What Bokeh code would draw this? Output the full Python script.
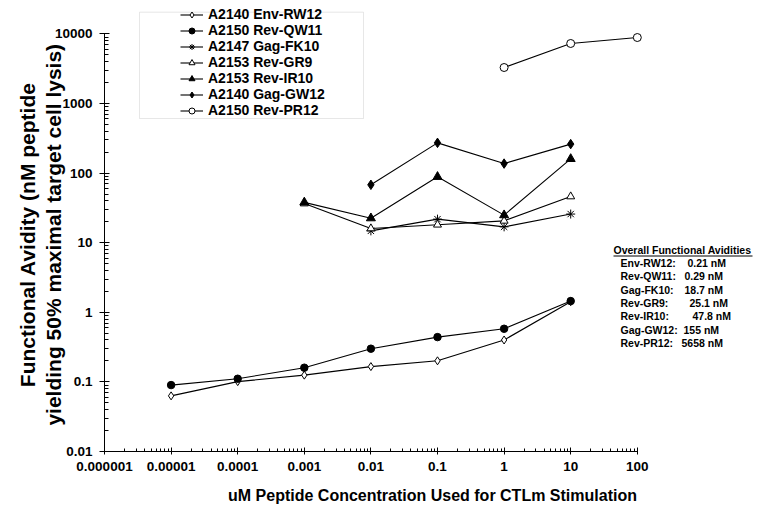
import math
from bokeh.plotting import figure
from bokeh.models import FixedTicker, CustomJSTickFormatter, Label, BoxAnnotation
from bokeh.embed import file_html
from bokeh.resources import INLINE

# ---------------- data ----------------
x_ticks = [1e-6, 1e-5, 1e-4, 1e-3, 1e-2, 1e-1, 1, 10, 100]
x_tick_labels = ["0.000001", "0.00001", "0.0001", "0.001", "0.01", "0.1", "1", "10", "100"]
y_ticks = [0.01, 0.1, 1, 10, 100, 1000, 10000]
y_tick_labels = ["0.01", "0.1", "1", "10", "100", "1000", "10000"]

series_names = ["A2140 Env-RW12", "A2150 Rev-QW11", "A2147 Gag-FK10", "A2153 Rev-GR9",
                "A2153 Rev-IR10", "A2140 Gag-GW12", "A2150 Rev-PR12"]

env_rw12_x = [1e-5, 1e-4, 1e-3, 1e-2, 1e-1, 1, 10]
env_rw12_y = [0.063, 0.101, 0.125, 0.166, 0.201, 0.40, 1.42]

rev_qw11_x = [1e-5, 1e-4, 1e-3, 1e-2, 1e-1, 1, 10]
rev_qw11_y = [0.090, 0.111, 0.160, 0.30, 0.44, 0.58, 1.45]

gag_fk10_x = [1e-2, 1e-1, 1, 10]
gag_fk10_y = [14.8, 21.8, 16.9, 25.8]

rev_gr9_x = [1e-3, 1e-2, 1e-1, 1, 10]
rev_gr9_y = [36.5, 16.0, 18.1, 20.6, 46.1]

rev_ir10_x = [1e-3, 1e-2, 1e-1, 1, 10]
rev_ir10_y = [38.0, 22.5, 88.5, 24.9, 160]

gag_gw12_x = [1e-2, 1e-1, 1, 10]
gag_gw12_y = [67.9, 272, 137, 261]

rev_pr12_x = [1, 10, 100]
rev_pr12_y = [3290, 7280, 8870]

avid_title = "Overall Functional Avidities"
avid_names = ["Env-RW12:", "Rev-QW11:", "Gag-FK10:", "Rev-GR9:", "Rev-IR10:", "Gag-GW12:", "Rev-PR12:"]
avid_values = ["0.21 nM", "0.29 nM", "18.7 nM", "25.1 nM", "47.8 nM", "155 nM", "5658 nM"]

x_title = "uM Peptide Concentration Used for CTLm Stimulation"
y_title_1 = "Functional Avidity (nM peptide"
y_title_2 = "yielding 50% maximal target cell lysis)"

# ---------------- layout ----------------
W, H = 760, 512
LEFT, BOTTOM, TOP = 104, 61, 0
FW, FH = W - LEFT, H - BOTTOM - TOP
PX_X, PX_Y = 66.6, 69.6
x_end = 10 ** (2 + (FW - 8 * PX_X) / PX_X)
Y0 = H - BOTTOM          # picture y of the x axis
y_end = 10 ** (4 + (FH - 6 * PX_Y) / PX_Y)

def dx(px):  # picture pixel x -> data x
    return 10 ** (-6 + (px - LEFT) / PX_X)

def dy(py):  # picture pixel y -> data y
    return 10 ** (-2 + (Y0 - py) / PX_Y)

FONT = "Liberation Sans"
PAD = "\u00a0" * 3   # shifts the centred y title a little downwards

p = figure(width=W, height=H, x_axis_type="log", y_axis_type="log",
           x_range=(1e-6, x_end), y_range=(0.01, y_end),
           output_backend="svg", toolbar_location=None,
           min_border_left=LEFT, min_border_bottom=BOTTOM,
           min_border_top=TOP, min_border_right=0)
p.outline_line_color = None
p.xgrid.visible = False
p.ygrid.visible = False
p.background_fill_color = "white"
p.border_fill_color = "white"

fmt_code = """
const i = tvals.findIndex(t => Math.abs(Math.log10(t) - Math.log10(tick)) < 1e-6);
return i >= 0 ? tlabels[i] : "";
"""
x_minor = [k * 10 ** d for d in range(-6, 2) for k in range(2, 10)]
y_minor = [k * 10 ** d for d in range(-2, 4) for k in range(2, 10)]

xa = p.xaxis[0]
xa.ticker = FixedTicker(ticks=x_ticks, minor_ticks=x_minor)
xa.formatter = CustomJSTickFormatter(args=dict(tvals=x_ticks, tlabels=x_tick_labels), code=fmt_code)
xa.bounds = (1e-6, 100)
xa.major_tick_in, xa.major_tick_out = 4, 3
xa.minor_tick_in, xa.minor_tick_out = 3, 0
xa.major_label_standoff = 7
xa.axis_label = x_title
xa.axis_label_standoff = 13
xa.axis_label_text_font_size = "16px"

ya = p.yaxis[0]
ya.ticker = FixedTicker(ticks=y_ticks, minor_ticks=y_minor)
ya.formatter = CustomJSTickFormatter(args=dict(tvals=y_ticks, tlabels=y_tick_labels), code=fmt_code)
ya.bounds = (0.01, 10000)
ya.major_tick_in, ya.major_tick_out = 5, 5
ya.minor_tick_in, ya.minor_tick_out = 4, 0
ya.major_label_standoff = 7
ya.axis_label = y_title_1 + PAD + "\n" + y_title_2 + PAD
ya.axis_label_standoff = -13
ya.axis_label_text_font_size = "21px"
ya.axis_label_text_line_height = 1.15

for ax in (xa, ya):
    ax.axis_line_color = "black"
    ax.major_tick_line_color = "black"
    ax.minor_tick_line_color = "black"
    ax.major_label_text_font = FONT
    ax.major_label_text_font_style = "bold"
    ax.major_label_text_font_size = "13.5px"
    ax.major_label_text_color = "black"
    ax.axis_label_text_font = FONT
    ax.axis_label_text_font_style = "bold"
    ax.axis_label_text_color = "black"

# ---------------- series ----------------
specs = [
    (env_rw12_x, env_rw12_y, "diamond", 8, "white"),
    (rev_qw11_x, rev_qw11_y, "circle", 7.5, "black"),
    (gag_fk10_x, gag_fk10_y, "asterisk", 9, "black"),
    (rev_gr9_x, rev_gr9_y, "triangle", 8, "white"),
    (rev_ir10_x, rev_ir10_y, "triangle", 9, "black"),
    (gag_gw12_x, gag_gw12_y, "diamond", 9.5, "black"),
    (rev_pr12_x, rev_pr12_y, "circle", 8, "white"),
]
for name, (xs, ys, mk, sz, fill) in zip(series_names, specs):
    p.line(xs, ys, line_color="black", line_width=1.1, legend_label=name)
    p.scatter(xs, ys, marker=mk, size=sz, fill_color=fill, line_color="black",
              line_width=1, legend_label=name)

lg = p.legend[0]
lg.location = (180 - LEFT, Y0 - 118)
lg.border_line_color = None
lg.background_fill_alpha = 0
lg.padding = 0
lg.margin = 0
lg.spacing = -1
lg.glyph_width = 23
lg.glyph_height = 15
lg.label_height = 15
lg.label_standoff = 5
lg.label_text_font = FONT
lg.label_text_font_style = "bold"
lg.label_text_font_size = "14px"
lg.label_text_color = "black"

p.add_layout(BoxAnnotation(left=dx(139), right=dx(363), top=dy(11.7), bottom=dy(118),
                           fill_color=None, fill_alpha=0, line_color="#b0b0b0", line_width=1))

# ---------------- avidity annotation block ----------------
p.add_layout(Label(x=dx(613), y=dy(249), text=avid_title, text_align="left",
                   text_baseline="middle", text_font=FONT, text_font_style="bold",
                   text_font_size="10.5px", text_color="black"))
p.segment(x0=[dx(613)], y0=[dy(255.5)], x1=[dx(752)], y1=[dy(255.5)],
          line_color="black", line_width=1)
val_px = [687, 684, 684, 689, 692, 683, 681]
for i, (nm, vv) in enumerate(zip(avid_names, avid_values)):
    row_y = dy(262.5 + i * 13.3)
    p.add_layout(Label(x=dx(620), y=row_y, text=nm, text_align="left", text_baseline="middle",
                       text_font=FONT, text_font_style="bold", text_font_size="10.5px",
                       text_color="black"))
    p.add_layout(Label(x=dx(val_px[i]), y=row_y, text=vv, text_align="left", text_baseline="middle",
                       text_font=FONT, text_font_style="bold", text_font_size="10.5px",
                       text_color="black"))

open("out.html", "w").write(file_html(p, INLINE))
